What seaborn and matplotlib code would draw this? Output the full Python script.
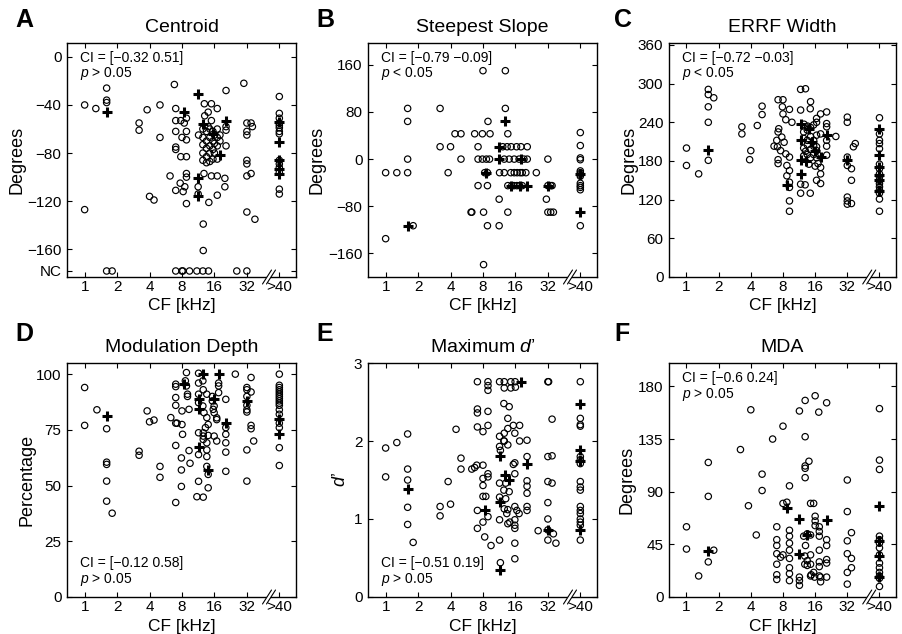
import matplotlib
matplotlib.use("Agg")
import matplotlib.pyplot as plt
import numpy as np
import pandas as pd
import seaborn as sns
from matplotlib.patches import Polygon
from matplotlib.lines import Line2D

# ---------------- data (CF in kHz, ">40" plotted at 64) ----------------
x_ticks = [1, 2, 4, 8, 16, 32, 64]
x_ticklabels = ["1", "2", "4", "8", "16", "32", ">40"]

A_circles = [(1.0,-40),(1.27,-43),(1.6,-26),(1.6,-36),(1.6,-38),(1.0,-127),
 (3.2,-55),(3.2,-61),(3.8,-44),(4.0,-116),(4.4,-119),(5.0,-40),(5.0,-67),
 (6.8,-23),(6.2,-99),(7.0,-43),(7.0,-53),(7.8,-53),(8.8,-51),(8.4,-55),
 (7.0,-62),(8.8,-62),(8.8,-69),(8.0,-67),(7.0,-75),(7.0,-77),(7.8,-83),(8.8,-83),
 (8.8,-97),(8.8,-100),(7.7,-105),(8.5,-108),(7.0,-111),(8.8,-122),(8.2,-112),
 (12.9,-39),(15,-39),(17,-43),(13,-49),(15,-53),(14,-46),
 (20.5,-28),(20.5,-58),(20.5,-61),(20.5,-74),(11.4,-65),
 (12.5,-60),(13.5,-62),(14.5,-60),(15.5,-62),(17,-60),(18,-65),(12.5,-67),(13.5,-70),
 (14.5,-67),(15.5,-70),(17,-67),(12.5,-73),(13.5,-76),(14.5,-74),(15.5,-77),(17,-74),
 (12.5,-80),(13.5,-83),(14.5,-80),(15.5,-85),(12.5,-86),(14.5,-87),(16,-65),(16,-72),
 (16,-80),(14,-58),(13.5,-88),(17,-85),(18,-70),
 (12.8,-97),(15,-99),(17,-99),(20,-101),(11.3,-108),(11.3,-114),
 (20,-108),(17,-115),(14.2,-121),(12.6,-139),(12.6,-161),
 (30,-22),(32,-55),(35,-55),(36,-58),(32,-62),(32,-65),(32,-86),(32,-89),(32,-99),
 (35,-97),(32,-129),(38,-135),
 (1.6,-178),(1.8,-178),(7,-178),(8,-178),(8.15,-178),(9.4,-178),(11,-178),(12.5,-178),
 (14.1,-178),(25.8,-178),(32,-178),
 (64,-33),(64,-47),(64,-51),(64,-55),(64,-57),(64,-59),(64,-62),(64,-64),(64,-86),
 (64,-89),(64,-92),(64,-96),(64,-110),(64,-114)]
A_plus = [(1.6,-46),(8.4,-46),(11.3,-31),(12.6,-56),(15.5,-64),(20.5,-53),(18,-82),
 (11.3,-101),(11.3,-116),(64,-54),(64,-71),(64,-86),(64,-93),(64,-97)]

B_circles = [(1.0,-23),(1.27,-23),(1.6,86),(1.6,64),(1.6,0),(1.6,-23),(1.8,-113),(1.0,-135),
 (3.2,86),(3.2,21),(4.0,21),(3.8,-23),(4.4,43),(5.0,43),(5.0,0),(6.3,-90),
 (6.7,43),(7.9,43),(9.3,43),(13.6,43),(7.2,21),(7.2,0),(7.9,0),(8.6,0),(9.2,0),
 (7.2,-45),(8.8,-45),(8,150),(12.9,150),(8.9,64),(12.9,86),
 (12.2,21),(13.4,21),(14.6,21),(16.4,21),(18,21),(20.6,21),
 (12.6,0),(14,0),(15.6,0),(17.3,0),(19.2,0),(20.6,0),(32,0),
 (8.3,-23),(8.8,-23),(11.4,-23),(12.6,-23),(14.5,-23),(15.6,-23),(16.6,-23),(17.7,-23),
 (18.5,-23),(20,-23),(25,-23),
 (13.6,-45),(15.5,-45),(16.5,-45),(17.5,-45),(18.5,-45),(14.8,-45),
 (11.3,-68),(31,-68),(6.2,-90),(8.1,-90),(13.6,-90),(32,-90),(34,-90),(36,-90),
 (8.8,-113),(11.3,-113),(8.1,-179),(32,-45),(34,-45),(35,-45),
 (64,45),(64,23),(64,2),(64,-1),(64,-20),(64,-23),(64,-26),(64,-29),(64,-41),(64,-45),
 (64,-48),(64,-52),(64,-113)]
B_plus = [(1.6,-113),(12.9,64),(11.3,21),(11.3,0),(18,0),(8.6,-23),(14.5,-45),(17.5,-45),
 (20.6,-45),(32,-45),(64,-90),(64,-25)]

C_circles = [(1.0,200),(1.0,173),(1.3,160),(1.6,291),(1.6,283),(1.8,278),(1.6,264),(1.6,240),(1.6,181),
 (3.3,233),(3.3,222),(4.0,196),(3.9,182),(4.6,235),(5.1,265),(5.1,252),
 (7.2,275),(8.0,275),(7.9,264),(9.2,260),(8.0,253),(8.5,244),(9.7,240),(7.3,230),(7.2,225),
 (7.8,217),(7.0,212),(8.2,209),(7.1,202),(6.6,203),(7.6,196),(8.5,191),(9.2,186),(7.2,182),
 (7.2,176),(8.7,173),(9.2,165),(8.7,157),(9.2,147),(9.2,139),(9.2,118),(9.2,102),
 (11.7,291),(13,292),(11.7,259),(14.5,272),(14.4,261),(12.6,237),(13.6,234),
 (12.5,225),(13.5,228),(14.5,232),(15.5,236),(16.5,240),(12.5,215),(13.5,212),(14.5,218),
 (15.5,212),(16.5,220),(12.5,200),(13.5,205),(14.5,198),(15.5,203),(16.5,196),(13.5,190),
 (14.5,185),(15.5,190),(16.5,185),(12.5,188),(17,176),(14,175),(16,172),(13,195),
 (11.7,144),(11.7,130),(12.9,143),(14.4,130),
 (18,170),(18,160),(18,145),(20.5,256),(20.5,238),(20.5,233),(20.5,212),(20.5,203),(20.5,189),
 (18,253),(16.5,246),(18,222),(16.5,202),(16.5,150),(25,218),
 (32,248),(32,240),(32,186),(32,173),(32,124),(32,118),(32,113),(35,168),(36.5,202),(35,150),
 (35,114),(38,207),
 (64,247),(64,222),(64,212),(64,207),(64,199),(64,175),(64,168),(64,160),(64,155),(64,150),
 (64,145),(64,140),(64,135),(64,130),(64,121),(64,102)]
C_plus = [(1.6,197),(8.7,143),(11.7,238),(11.7,212),(11.7,182),(11.7,160),(13,180),(14,230),
 (15,210),(16,195),(18,186),(20.5,220),(32,182),(64,229),(64,190),(64,170),(64,158),(64,150),(64,134)]

D_circles = [(1.0,94),(1.0,77),(1.3,84),(1.6,75.5),(1.6,60.5),(1.6,59.5),(1.6,52),(1.6,43),(1.8,37.6),
 (3.2,65.4),(3.2,63.6),(3.8,83.5),(4.0,78.6),(4.4,79.4),(5.0,58.6),(5.0,53.7),(6.3,80.5),
 (7.0,95.5),(7.0,94.4),(7.0,89.5),(7.0,86),(7.0,78),(7.2,78),(7.0,68),(7.0,42.4),
 (8.0,83.5),(8.0,77.4),(8.1,73),(7.9,62.4),(7.9,57),(7.9,49.6),(8.6,97),
 (8.8,100.7),(8.8,94.7),(9.0,91),(9.0,90),(9.3,84.2),(9.3,65.7),(9.5,60),
 (11.4,100.4),(11.4,96),(11.4,91),(11.4,87.2),(11.4,73.7),(11.4,63.9),(11.4,51.9),(11.0,45),(12.6,44.8),
 (12.5,97),(12.6,93),(13.6,91),(12.5,85.7),(12.8,82.7),(13.6,80.5),(14,77.4),(13.2,76),(12.6,73.7),
 (12.6,72.2),(12.6,70.7),(14,72.5),(13.6,69.2),(13.6,66),(13.6,63),(13.6,58.6),(14,55),(14,49),
 (15.3,90),(15.3,88),(15.9,85.7),(15.6,84.2),(15.9,82.7),(16.8,80.4),(17.5,96),(17.5,94.7),(17.5,91.7),
 (15.9,72.2),(16.8,70),(16.8,79.6),
 (20.4,88.7),(20.4,76),(20.4,73),(20.4,69.2),(20.4,65),(20.4,56.4),(25,100),
 (32,94),(32,93),(32,90),(32,86),(32,84),(32,83),(35,98.5),(35,92),(35,77),(35,75.5),(37,70),(32,66),(32,52),
 (64,100),(64,95),(64,94),(64,93),(64,92),(64,91),(64,90),(64,89),(64,88),(64,87),(64,86),(64,84),
 (64,82),(64,78),(64,76),(64,67),(64,59)]
D_plus = [(1.6,81),(8.4,95.5),(11.4,89),(11.4,84.5),(11.4,67.4),(12.6,100),(17.5,100),(14,56.8),
 (15.9,89),(20.4,78),(32,88),(64,80),(64,73)]

E_circles = [(1.0,1.91),(1.0,1.54),(1.27,1.98),(1.6,2.09),(1.6,1.64),(1.6,1.50),(1.6,1.15),(1.6,0.93),(1.8,0.70),
 (3.2,1.16),(3.2,1.04),(4.0,1.19),(3.8,1.48),(4.5,2.15),(5.0,1.78),(5.0,1.64),
 (6.3,1.64),(6.7,1.66),(7.0,1.69),
 (7.1,2.76),(8.9,2.76),(11.4,2.76),(12.6,2.76),(14.5,2.76),(15.9,2.76),(32,2.76),(32.5,2.76),
 (8.9,2.71),(8.9,2.65),(12.6,2.68),(14.5,2.68),(16,2.69),
 (7.1,2.41),(7.1,2.36),(8.9,2.38),(7.1,2.18),(8.0,2.12),(8.9,2.2),
 (8.0,1.69),(8.0,1.52),(8.0,1.43),(8.0,1.29),(8.5,1.29),(8.0,0.96),(8.3,0.77),(9.5,0.66),(8.9,1.58),
 (8.9,1.54),(8.9,1.03),(7.1,1.11),(7.1,0.88),
 (11.4,2.06),(11.4,1.93),(11.6,1.88),(11.4,1.46),(11.4,1.28),(11.4,0.99),(11.4,0.73),(11.6,0.44),
 (12.5,2.48),(12.6,2.1),(12.5,2.0),(12.6,2.0),(13,1.46),(12.5,1.37),(13,1.26),(12.6,1.13),(13.3,1.07),
 (13.6,0.94),(14,2.44),(13.6,2.29),(13.6,2.16),(13.6,1.95),(14,1.35),(13.6,1.12),(14.2,0.96),
 (15.3,2.2),(15.8,2.1),(15.3,1.7),(15.8,1.72),(15.8,1.58),(15.8,1.16),(15.8,0.99),(15.8,0.92),(15.8,0.88),
 (15.8,0.69),(15.8,0.49),(17.5,2.2),(17.5,2.0),(16.5,1.11),(17.3,1.07),
 (20.5,2.01),(20.5,1.8),(20.5,1.49),(20.5,1.42),(20.5,1.33),(20.5,1.16),(20.5,1.11),(26,0.85),
 (32,1.8),(35,1.81),(32,1.48),(35,1.46),(32,1.21),(32,1.0),(32,0.86),(32,0.73),(35,2.28),(36,0.81),(38,0.69),
 (64,2.76),(64,2.29),(64,2.21),(64,2.19),(64,1.8),(64,1.76),(64,1.71),(64,1.48),(64,1.41),(64,1.37),
 (64,1.16),(64,1.11),(64,1.07),(64,1.0),(64,0.96),(64,0.92),(64,0.73)]
E_plus = [(1.6,1.39),(11.4,1.81),(11.4,1.22),(11.6,0.35),(12.9,1.57),(13.8,1.50),(18,2.76),(20.5,1.70),
 (8.4,1.11),(32,0.86),(64,2.48),(64,1.89),(64,1.74),(64,0.86)]

F_circles = [(1.0,60),(1.0,41),(1.3,18),(1.6,115),(1.6,86),(1.8,40),(1.6,30),
 (3.2,126),(4.0,160),(3.8,78),(4.5,53),(5.1,105),(5.1,91),
 (6.4,135),(8.0,146),(9.2,95),(8.0,80),(8.7,81),
 (12.9,168),(16,172),(20.5,166),(11.4,159),(17.3,158),(12.9,137),(12.9,112),(12.9,110),(14,116),
 (12.9,102),(14.5,80),(15.5,80),(32,100),
 (7.0,60),(7.0,49),(7.0,44),(7.0,37),(7.0,28),(7.0,19),(7.0,15),(8,36),(7.6,34),
 (9.2,57),(9.2,52),(9.2,46),(9.2,40),(9.2,33),(9.2,25),(9.2,20),(9.2,14),
 (11.4,17),(11.4,14),(11.4,10),
 (12.5,52),(13.5,54),(14.5,53),(12.8,35),(13.5,31),(12.8,28),(13.5,27),(14.5,28),(14.5,18),(14.7,19),
 (15.5,21),(15.8,17),(14.5,36),(13,44),
 (17.5,60),(17.5,56),(17.5,52),(17.5,40),(17.5,30),(17.5,26),(17.5,18),(18,17),(18,13),(16,69),(16,65),(16,61),
 (20.5,49),(20.5,44),(20.5,32),(20.5,29),(20.5,17),
 (32,73),(32,48),(32,37),(32,21),(32,11),(35,55),(35,33),(35,25),
 (64,161),(64,117),(64,109),(64,52),(64,49),(64,46),(64,42),(64,36),(64,29),(64,25),(64,21),(64,18),(64,16),(64,9)]
F_plus = [(1.6,39),(8.7,76),(11.4,67),(11.4,37),(13.5,53),(20.5,66),(64,78),(64,48),(64,35),(64,17)]

M = "\u2212"
panels = [
    dict(letter="A", title="Centroid", ylabel="Degrees", circ=A_circles, plus=A_plus,
         yticks=[-178, -160, -120, -80, -40, 0],
         ylabels=["NC", M+"160", M+"120", M+"80", M+"40", "0"], ylim=(-183, 11.5),
         ci="CI = [" + M + "0.32 0.51]", p="> 0.05", top=True, ylab_px=50),
    dict(letter="B", title="Steepest Slope", ylabel="Degrees", circ=B_circles, plus=B_plus,
         yticks=[-160, -80, 0, 80, 160], ylabels=[M+"160", M+"80", "0", "80", "160"], ylim=(-200, 197),
         ci="CI = [" + M + "0.79 " + M + "0.09]", p="< 0.05", top=True, ylab_px=51),
    dict(letter="C", title="ERRF Width", ylabel="Degrees", circ=C_circles, plus=C_plus,
         yticks=[0, 60, 120, 180, 240, 300, 360], ylabels=["0", "60", "120", "180", "240", "300", "360"],
         ylim=(0, 363), ci="CI = [" + M + "0.72 " + M + "0.03]", p="< 0.05", top=True, ylab_px=40),
    dict(letter="D", title="Modulation Depth", ylabel="Percentage", circ=D_circles, plus=D_plus,
         yticks=[0, 25, 50, 75, 100], ylabels=["0", "25", "50", "75", "100"], ylim=(0, 105),
         ci="CI = [" + M + "0.12 0.58]", p="> 0.05", top=False, ylab_px=40),
    dict(letter="E", title=r"Maximum $d$’", ylabel=r"$d$’", circ=E_circles, plus=E_plus,
         yticks=[0, 1, 2, 3], ylabels=["0", "1", "2", "3"], ylim=(0, 3),
         ci="CI = [" + M + "0.51 0.19]", p="> 0.05", top=False, ylab_px=27),
    dict(letter="F", title="MDA", ylabel="Degrees", circ=F_circles, plus=F_plus,
         yticks=[0, 45, 90, 135, 180], ylabels=["0", "45", "90", "135", "180"], ylim=(0, 200),
         ci="CI = [" + M + "0.6 0.24]", p="> 0.05", top=True, ylab_px=42),
]

# ---------------- style ----------------
sns.set_style("ticks")
plt.rcParams["font.family"] = ["Liberation Sans", "DejaVu Sans"]
plt.rcParams["mathtext.fontset"] = "custom"
plt.rcParams["mathtext.it"] = "Liberation Sans:italic"
plt.rcParams["mathtext.rm"] = "Liberation Sans"
plt.rcParams["xtick.direction"] = "in"
plt.rcParams["ytick.direction"] = "in"
plt.rcParams["xtick.top"] = True
plt.rcParams["ytick.right"] = True
for key in ("text.color", "axes.labelcolor", "xtick.color", "ytick.color", "axes.edgecolor"):
    plt.rcParams[key] = "black"

W, H = 903, 634
fig = plt.figure(figsize=(W / 100, H / 100), dpi=100)

# axes boxes in pixels: left, right, top, bottom
boxes = [(67, 296, 43, 277), (368, 597, 43, 277), (669, 896, 43, 277),
         (67, 296, 363, 597), (368, 597, 363, 597), (669, 896, 363, 597)]
letter_pos = [(15, 8), (316, 8), (614, 8), (15, 322), (316, 322), (614, 322)]

for pnl, (l, r, t, b), (lx, ly) in zip(panels, boxes, letter_pos):
    ax = fig.add_axes([l / W, 1 - b / H, (r - l) / W, (b - t) / H])
    wpx, hpx = r - l, b - t
    cdf = pd.DataFrame(pnl["circ"], columns=["cf", "val"])
    pdf = pd.DataFrame(pnl["plus"], columns=["cf", "val"])
    sns.scatterplot(data=cdf, x="cf", y="val", ax=ax, marker="o", s=21,
                    color="black", linewidth=0.85, zorder=3)
    coll = ax.collections[-1]
    coll.set_facecolor("none")
    coll.set_edgecolor("black")
    sns.scatterplot(data=pdf, x="cf", y="val", ax=ax, marker="+", s=42,
                    color="black", linewidth=2.2, zorder=4)
    ax.set_xscale("log", base=2)
    ax.set_xlim(0.686, 91.4)
    ax.set_xticks(x_ticks)
    ax.set_xticklabels(x_ticklabels)
    ax.xaxis.set_minor_locator(matplotlib.ticker.NullLocator())
    ax.set_ylim(*pnl["ylim"])
    ax.set_yticks(pnl["yticks"])
    ax.set_yticklabels(pnl["ylabels"])
    ax.tick_params(axis="both", which="major", labelsize=11, length=3.5, width=0.8,
                   direction="in", top=True, right=True, color="black", labelcolor="black")
    ax.tick_params(axis="x", pad=2.5)
    ax.tick_params(axis="y", pad=4)
    for s in ax.spines.values():
        s.set_linewidth(1.0)
        s.set_color("black")
    ax.set_xlabel("CF [kHz]", fontsize=12.5, color="black")
    ax.xaxis.set_label_coords(0.5, -29 / hpx)
    ax.xaxis.label.set_va("center")
    ax.set_ylabel(pnl["ylabel"], fontsize=13, color="black")
    ax.yaxis.set_label_coords(-pnl["ylab_px"] / wpx, 0.5)
    ax.yaxis.label.set_va("center")
    ax.text(0.5, 1 + 16 / hpx, pnl["title"], transform=ax.transAxes, ha="center",
            va="center", fontsize=14, color="black")
    if pnl["top"]:
        y1, y2 = 1 - 15 / hpx, 1 - 31 / hpx
    else:
        y1, y2 = 34 / hpx, 18 / hpx
    ax.text(13 / wpx, y1, pnl["ci"], transform=ax.transAxes, ha="left", va="center",
            fontsize=10, color="black")
    ax.text(13 / wpx, y2, r"$p$ " + pnl["p"], transform=ax.transAxes, ha="left", va="center",
            fontsize=10, color="black")

    # axis break marks between 32 and >40
    xc = (269 - 67) / 229
    dx, dy, g = 4.5 / wpx, 7 / hpx, 4 / wpx
    poly = Polygon([(xc - g / 2 - dx, -dy), (xc - g / 2 + dx, dy), (xc + g / 2 + dx, dy),
                    (xc + g / 2 - dx, -dy)], closed=True, transform=ax.transAxes,
                   facecolor="white", edgecolor="none", clip_on=False, zorder=10)
    ax.add_patch(poly)
    for off in (-g / 2, g / 2):
        ax.add_line(Line2D([xc + off - dx, xc + off + dx], [-dy, dy], transform=ax.transAxes,
                           color="black", lw=0.8, clip_on=False, zorder=11))

    fig.text(lx / W, 1 - ly / H, pnl["letter"], ha="left", va="top", fontsize=18,
             fontweight="bold", color="black")

fig.savefig("out.png", dpi=100)
